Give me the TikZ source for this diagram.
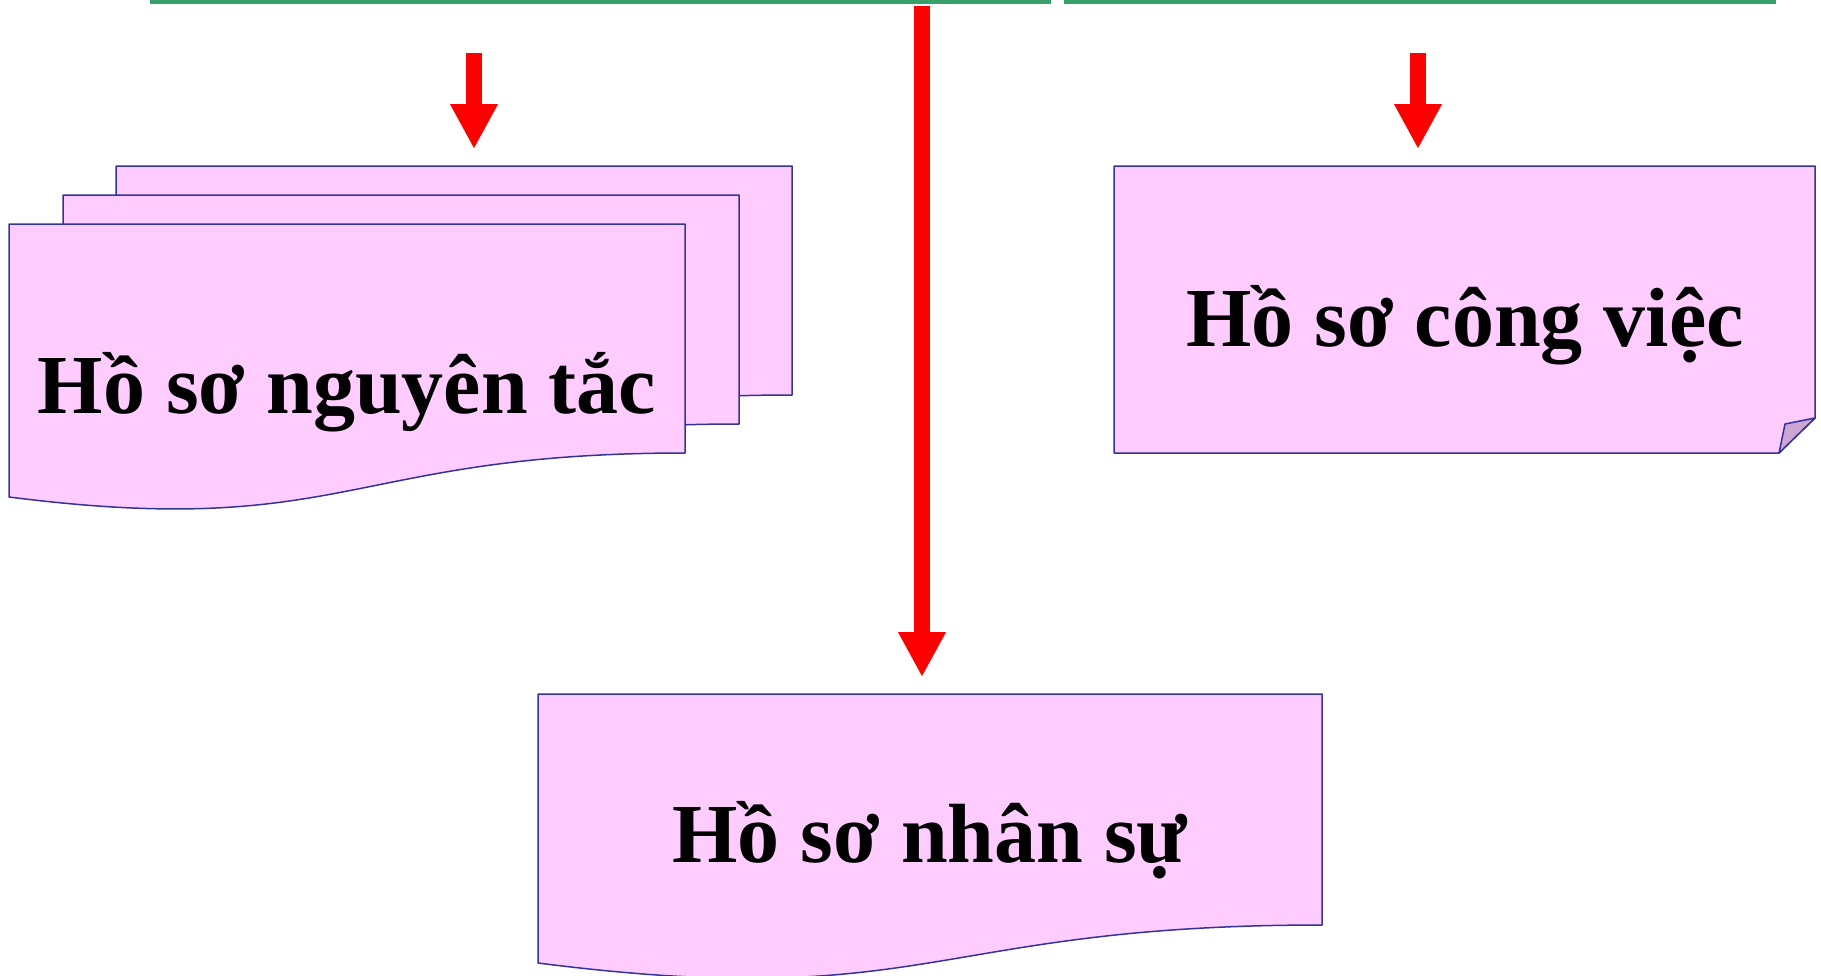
\documentclass[tikz,border=0pt]{standalone}
\usepackage{fontspec}
\setmainfont{Liberation Serif}
\usetikzlibrary{arrows.meta}
\definecolor{docfill}{RGB}{255,204,255}
\definecolor{docline}{RGB}{51,51,153}
\definecolor{foldfill}{RGB}{204,166,210}
\definecolor{topgreen}{RGB}{56,160,106}
\begin{document}
\begin{tikzpicture}[x=0.5pt,y=-0.5pt,
  doc/.style={fill=docfill,draw=docline,line width=0.75pt,line join=round},
  foldpart/.style={fill=foldfill,draw=docline,line width=0.75pt,line join=round},
  lbl/.style={font=\fontsize{42}{48}\selectfont\bfseries,anchor=base,inner sep=0pt},
  greenbar/.style={draw=topgreen,line width=1.75pt},
  redarrow/.style={draw=red,line width=8pt,-{Triangle[width=22.3pt,length=22.5pt]}}]
\useasboundingbox (0,0) rectangle (1821,975);

% top green bar
\draw[greenbar] (150,1.75) -- (1051,1.75);
\draw[greenbar] (1064,1.75) -- (1776,1.75);

% stacked documents (left)
\path[doc] (116,166) -- (792,166) -- (792,395) .. controls (454,395) and (454,482) .. (116,439) -- cycle;
\path[doc] (63,195) -- (739,195) -- (739,424) .. controls (401,424) and (401,511) .. (63,468) -- cycle;
\path[doc] (9,224) -- (685,224) -- (685,453) .. controls (347,453) and (347,540) .. (9,497) -- cycle;

% folded-corner box (right)
\path[doc] (1114,166) -- (1815,166) -- (1815,418) -- (1779,453) -- (1114,453) -- cycle;
\path[foldpart] (1779,453) -- (1785,424) -- (1815,418) -- cycle;

% document (bottom)
\path[doc] (538,694) -- (1322,694) -- (1322,925) .. controls (930,925) and (930,1013) .. (538,963) -- cycle;

% labels
\node[lbl] (tNT) at (347,413) {Hồ sơ nguyên tắc};
\node[lbl] (tCV) at (1465,346) {Hồ sơ công việc};
\node[lbl] (tNS) at (930,862) {Hồ sơ nhân sự};

% arrows
\coordinate (srcL) at (474,53);
\coordinate (tipL) at (474,149);
\coordinate (srcR) at (1418,53);
\coordinate (tipR) at (1418,149);
\coordinate (srcC) at (922,6);
\coordinate (tipC) at (922,677);
\draw[redarrow] (srcL) -- (tipL);
\draw[redarrow] (srcR) -- (tipR);
\draw[redarrow] (srcC) -- (tipC);
\end{tikzpicture}
\end{document}
